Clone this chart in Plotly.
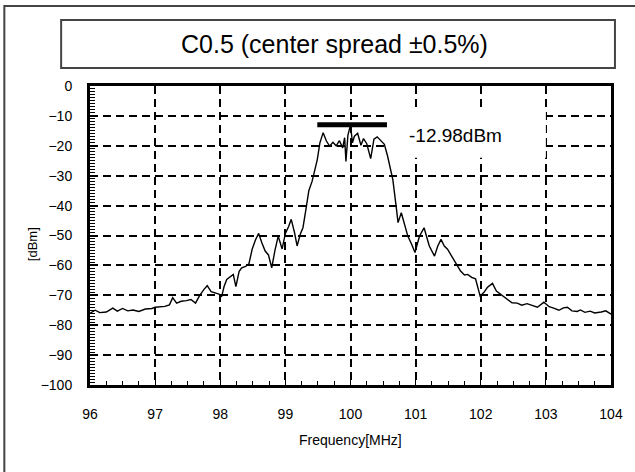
import plotly.graph_objects as go

# spectrum
freq_mhz = [
    96.00, 96.08, 96.15, 96.25, 96.35, 96.42, 96.50, 96.58, 96.66, 96.75,
    96.85, 96.95, 97.00, 97.08, 97.15, 97.22, 97.27, 97.33, 97.40, 97.48,
    97.55, 97.62, 97.68, 97.75, 97.80, 97.86, 97.92, 97.98, 98.02, 98.06,
    98.10, 98.16, 98.20, 98.24, 98.29, 98.33, 98.39, 98.44, 98.49, 98.54,
    98.59, 98.64, 98.69, 98.74, 98.79, 98.84, 98.89, 98.95, 99.00, 99.05,
    99.09, 99.14, 99.18, 99.23, 99.27, 99.32, 99.36, 99.41, 99.46, 99.49,
    99.53, 99.58, 99.63, 99.68, 99.73, 99.78, 99.83, 99.88, 99.91, 99.93,
    99.96, 100.00, 100.03, 100.06, 100.11, 100.16, 100.20, 100.25, 100.31, 100.36,
    100.41, 100.46, 100.52, 100.57, 100.61, 100.65, 100.70, 100.73, 100.78, 100.83,
    100.88, 100.94, 100.99, 101.06, 101.13, 101.17, 101.21, 101.29, 101.34, 101.39,
    101.44, 101.49, 101.54, 101.59, 101.65, 101.69, 101.75, 101.80, 101.86, 101.92,
    101.99, 102.05, 102.10, 102.18, 102.24, 102.32, 102.41, 102.48, 102.56, 102.63,
    102.71, 102.79, 102.87, 102.97, 103.05, 103.12, 103.20, 103.27, 103.33, 103.40,
    103.48, 103.53, 103.60, 103.68, 103.75, 103.85, 103.92, 104.00,
]
level_dbm = [
    -76.0, -75.0, -75.8, -75.6, -74.3, -75.3, -74.4, -75.2, -74.9, -75.4,
    -74.6, -74.4, -74.0, -73.9, -73.7, -73.2, -70.8, -72.6, -72.0, -71.8,
    -71.4, -72.6, -70.2, -68.0, -66.8, -68.8, -69.2, -69.6, -70.5, -67.0,
    -64.7, -63.5, -63.0, -67.1, -62.0, -60.8, -60.3, -59.5, -54.6, -51.5,
    -49.3, -52.5, -55.2, -56.5, -60.8, -55.0, -50.2, -54.5, -49.3, -47.0,
    -44.6, -49.0, -53.5, -49.5, -47.4, -40.7, -35.0, -31.9, -27.9, -24.6,
    -19.0, -15.6, -18.4, -20.1, -18.8, -20.0, -18.3, -20.7, -17.3, -25.2,
    -16.5, -13.0, -19.0, -16.8, -15.8, -19.8, -17.6, -19.3, -24.3, -17.8,
    -17.0, -18.0, -19.5, -23.5, -27.5, -31.3, -40.1, -45.7, -42.4, -46.5,
    -50.2, -53.0, -55.7, -50.2, -47.4, -50.5, -53.5, -56.9, -53.5, -51.3,
    -53.5, -54.6, -56.5, -58.0, -60.5, -61.9, -63.2, -63.0, -64.0, -64.5,
    -70.2, -69.0, -67.4, -66.0, -68.6, -70.0, -71.3, -72.5, -72.6, -73.3,
    -72.8, -73.5, -74.0, -72.3, -73.8, -74.3, -75.0, -74.2, -74.0, -75.2,
    -75.4, -74.9, -75.7, -75.3, -75.9, -75.6, -75.2, -76.3,
]

# peak marker bar
peak_span = [99.49, 100.56]
peak_level = -12.98

title_text = "C0.5 (center spread \u00b10.5%)"
font = "Liberation Sans, Arial, sans-serif"

fig = go.Figure()
fig.add_trace(go.Scatter(x=freq_mhz, y=level_dbm, mode="lines",
                         line=dict(color="black", width=1.4), showlegend=False,
                         hoverinfo="skip"))
fig.add_trace(go.Scatter(x=peak_span, y=[peak_level] * len(peak_span), mode="lines",
                         line=dict(color="black", width=5), showlegend=False,
                         hoverinfo="skip"))

fig.update_layout(
    width=635, height=472,
    margin=dict(l=90, r=22, t=86, b=87),
    paper_bgcolor="white", plot_bgcolor="white",
    font=dict(family=font, size=14, color="black"),
)

grid = dict(showgrid=True, gridcolor="black", gridwidth=1.5, griddash="8px,5px",
            showline=True, linecolor="black", linewidth=3, mirror=True,
            ticks="inside", ticklen=5, tickcolor="black", zeroline=False)

fig.update_xaxes(range=[96, 104], dtick=1, tick0=96, ticklabelstandoff=14,
                 minor=dict(dtick=0.25, ticks="inside", ticklen=4, tickcolor="black", showgrid=False),
                 **grid)
fig.update_yaxes(range=[-100, 0], dtick=10, tick0=0, ticklabelstandoff=12,
                 minor=dict(dtick=1, ticks="inside", ticklen=5, tickcolor="black", showgrid=False),
                 **grid)

# outer frame and title box
fig.add_shape(type="rect", xref="paper", yref="paper",
              x0=-0.1644, x1=1.06, y0=-0.33, y1=1.2676,
              line=dict(color="#444", width=2), layer="below")
fig.add_shape(type="rect", xref="paper", yref="paper",
              x0=-0.0554, x1=1.0076, y0=1.0602, y1=1.2207,
              line=dict(color="#444", width=2))

# white patch behind the peak label hides the grid there
fig.add_shape(type="rect", x0=100.59, x1=103.0, y0=-24, y1=-8,
              fillcolor="white", line=dict(width=0), layer="between")

fig.add_annotation(text=title_text, xref="paper", yref="paper", x=0.47, y=1.1405,
                   showarrow=False, font=dict(size=25), xanchor="center", yanchor="middle")
fig.add_annotation(text="Frequency[MHz]", xref="paper", yref="paper", x=0.5, y=-0.184,
                   showarrow=False, font=dict(size=14), xanchor="center", yanchor="middle")
fig.add_annotation(text="[dBm]", xref="paper", yref="paper", x=-0.11, y=0.47,
                   textangle=-90, showarrow=False, font=dict(size=13),
                   xanchor="center", yanchor="middle")
fig.add_annotation(text="%.2fdBm" % peak_level, x=100.86, y=-16.4, xanchor="left",
                   yanchor="middle", showarrow=False, font=dict(size=19))

# drop the default page margin so the figure sits at the window's corner
fig.write_html("out.html", config={"displayModeBar": False},
               post_script="document.body.style.margin='0';")
